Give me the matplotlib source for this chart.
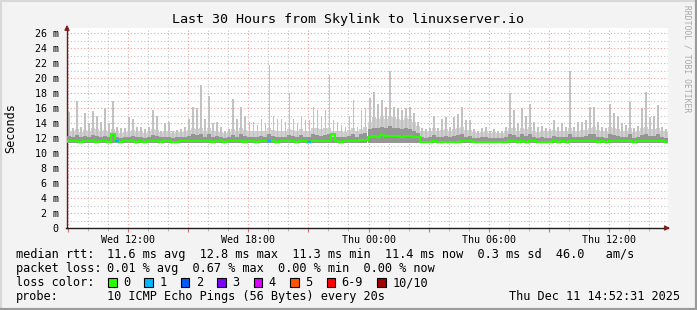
import matplotlib
matplotlib.use('Agg')
import matplotlib.pyplot as plt
import matplotlib.dates as mdates
from matplotlib.ticker import MultipleLocator, FuncFormatter
from matplotlib.patches import Rectangle
from matplotlib.lines import Line2D
import numpy as np
import pandas as pd

# 12 minute bins, Wed 08:57 -> Thu 14:57 (30 hours)
times = pd.date_range('2025-12-10 08:57', periods=150, freq='12min')

# smoke top (ms) - the light grey spikes
smoke_top = [15.5, 13.4, 17.0, 13.5, 15.3, 14.0, 15.6, 15.0, 14.2, 16.0, 14.0, 17.0, 13.5, 13.3, 13.3, 14.8, 14.5, 13.5, 13.5, 13.2, 13.5, 15.8, 15.0, 13.0, 14.0,
             14.2, 13.0, 13.1, 13.2, 13.5, 14.6, 16.2, 16.0, 19.1, 14.5, 17.6, 14.0, 14.2, 13.5, 13.0, 13.2, 17.2, 14.5, 16.2, 15.0, 14.2, 14.2, 13.8, 14.5, 14.0,
             21.7, 15.0, 14.6, 14.6, 14.2, 18.0, 14.6, 14.0, 15.0, 14.4, 14.4, 16.2, 15.8, 15.0, 15.7, 20.4, 14.4, 14.2, 13.8, 13.5, 15.0, 17.1, 13.5, 15.7, 16.0,
             17.3, 18.2, 16.5, 17.1, 16.2, 21.0, 16.2, 16.0, 15.7, 16.0, 16.2, 15.3, 14.2, 13.3, 13.2, 13.3, 15.0, 13.3, 14.5, 14.8, 13.5, 14.8, 15.2, 16.2, 14.4,
             14.4, 13.2, 13.0, 13.3, 13.5, 13.0, 13.2, 13.0, 13.0, 13.5, 18.0, 15.7, 14.0, 16.0, 15.0, 16.6, 14.2, 13.5, 13.6, 13.3, 13.2, 14.4, 13.5, 14.0, 13.5,
             21.0, 13.5, 14.2, 14.2, 14.4, 16.2, 16.2, 14.2, 13.5, 13.3, 16.6, 15.3, 15.0, 14.0, 13.8, 16.8, 13.3, 13.6, 16.0, 18.2, 14.8, 15.0, 16.4, 13.5, 13.2]

# continuous light smoke band
smoke_base = [13.0, 12.9, 13.2, 12.8, 13.1, 13.0, 13.3, 13.2, 12.9, 13.1, 12.8, 13.2, 12.9, 12.7, 12.8, 13.0, 13.1, 12.8, 12.9, 12.7, 12.9, 13.2, 13.1, 12.8, 12.9,
              13.0, 12.7, 12.8, 12.8, 12.9, 13.1, 13.3, 13.2, 13.4, 13.0, 13.3, 12.9, 13.0, 12.8, 12.7, 12.8, 13.2, 13.0, 13.3, 13.1, 12.9, 13.0, 12.9, 13.0, 12.9,
              13.3, 13.1, 13.0, 13.0, 12.9, 13.2, 13.1, 12.9, 13.2, 13.0, 13.0, 13.4, 13.3, 13.2, 13.3, 13.4, 13.0, 12.9, 12.9, 12.8, 13.1, 13.3, 12.9, 13.2, 13.5,
              14.2, 14.8, 14.5, 14.9, 14.6, 15.0, 14.8, 14.6, 14.4, 14.7, 14.5, 14.2, 13.6, 12.9, 12.8, 12.9, 13.3, 12.9, 13.1, 13.2, 12.9, 13.2, 13.3, 13.5, 13.1,
              13.1, 12.8, 12.7, 12.8, 12.9, 12.7, 12.8, 12.7, 12.7, 12.9, 13.4, 13.3, 12.9, 13.4, 13.2, 13.5, 13.0, 12.8, 12.9, 12.8, 12.8, 13.1, 12.9, 13.0, 12.9,
              13.3, 12.9, 13.0, 13.1, 13.1, 13.4, 13.5, 13.1, 12.9, 12.8, 13.5, 13.3, 13.2, 13.0, 12.9, 13.4, 12.8, 12.9, 13.3, 13.5, 13.2, 13.2, 13.4, 12.9, 12.8]

# darker smoke close to the median
smoke_mid = [12.3, 12.1, 12.4, 12.1, 12.3, 12.2, 12.4, 12.3, 12.1, 12.3, 12.1, 12.4, 12.2, 12.0, 12.1, 12.2, 12.3, 12.1, 12.2, 12.0, 12.2, 12.4, 12.3, 12.1, 12.2,
             12.2, 12.0, 12.1, 12.1, 12.2, 12.3, 12.5, 12.4, 12.6, 12.2, 12.5, 12.2, 12.3, 12.1, 12.0, 12.1, 12.4, 12.2, 12.5, 12.3, 12.2, 12.2, 12.2, 12.3, 12.2,
             12.6, 12.3, 12.2, 12.2, 12.2, 12.4, 12.3, 12.2, 12.4, 12.2, 12.2, 12.5, 12.4, 12.3, 12.4, 12.6, 12.2, 12.2, 12.1, 12.1, 12.3, 12.5, 12.2, 12.5, 12.7,
             13.2, 13.4, 13.3, 13.5, 13.3, 13.6, 13.4, 13.3, 13.2, 13.3, 13.2, 13.0, 12.7, 12.1, 12.0, 12.1, 12.4, 12.1, 12.2, 12.3, 12.1, 12.3, 12.4, 12.6, 12.2,
             12.3, 12.0, 12.0, 12.1, 12.1, 12.0, 12.0, 12.0, 12.0, 12.1, 12.6, 12.4, 12.1, 12.5, 12.3, 12.6, 12.2, 12.0, 12.1, 12.0, 12.0, 12.3, 12.1, 12.2, 12.1,
             12.5, 12.1, 12.2, 12.2, 12.3, 12.5, 12.6, 12.2, 12.1, 12.0, 12.6, 12.4, 12.3, 12.2, 12.1, 12.5, 12.0, 12.1, 12.4, 12.6, 12.3, 12.3, 12.5, 12.1, 12.0]

median = [11.6, 11.6, 11.6, 11.5, 11.6, 11.6, 11.6, 11.5, 11.6, 11.6, 11.5, 12.5, 11.6, 11.5, 11.6, 11.6, 11.6, 11.5, 11.6, 11.5, 11.6, 11.6, 11.6, 11.5, 11.6,
          11.6, 11.5, 11.5, 11.6, 11.6, 11.6, 11.6, 11.6, 11.6, 11.6, 11.6, 11.5, 11.6, 11.6, 11.5, 11.6, 11.6, 11.6, 11.6, 11.5, 11.6, 11.6, 11.5, 11.6, 11.6,
          11.6, 11.6, 11.5, 11.6, 11.6, 11.6, 11.6, 11.5, 11.6, 11.6, 11.5, 11.6, 11.6, 11.6, 11.6, 11.6, 12.5, 11.6, 11.5, 11.6, 11.6, 11.6, 11.6, 11.7, 11.8,
          12.2, 12.3, 12.2, 12.4, 12.3, 12.3, 12.3, 12.3, 12.2, 12.3, 12.3, 12.2, 12.2, 11.5, 11.5, 11.5, 11.6, 11.5, 11.5, 11.5, 11.5, 11.5, 11.5, 11.6, 11.6,
          11.6, 11.5, 11.5, 11.5, 11.5, 11.5, 11.5, 11.5, 11.5, 11.5, 11.6, 11.6, 11.5, 11.6, 11.5, 11.6, 11.6, 11.5, 11.5, 11.5, 11.5, 11.6, 11.5, 11.6, 11.5,
          11.6, 11.6, 11.6, 11.6, 11.6, 11.6, 11.6, 11.5, 11.6, 11.5, 11.6, 11.6, 11.6, 11.6, 11.6, 11.6, 11.5, 11.6, 11.6, 11.6, 11.6, 11.6, 11.6, 11.6, 11.5]

# lost pings per bin (out of 10)
loss = [0, 0, 0, 0, 0, 0, 0, 0, 0, 0, 0, 0, 1, 0, 0, 0, 0, 0, 0, 0, 0, 0, 0, 0, 0,
        0, 0, 0, 0, 0, 0, 0, 0, 0, 0, 0, 0, 0, 0, 0, 0, 0, 0, 0, 0, 0, 0, 0, 0, 0,
        1, 0, 0, 0, 0, 0, 0, 0, 0, 0, 1, 0, 0, 0, 0, 0, 0, 0, 0, 0, 0, 0, 0, 0, 0,
        0, 0, 0, 0, 0, 0, 0, 0, 0, 0, 0, 0, 0, 0, 0, 0, 0, 0, 0, 0, 0, 0, 0, 0, 0,
        0, 0, 0, 0, 0, 0, 0, 0, 0, 0, 0, 0, 0, 0, 0, 0, 0, 0, 0, 0, 0, 0, 0, 0, 0,
        0, 0, 0, 0, 0, 0, 0, 0, 0, 0, 0, 0, 0, 0, 0, 0, 0, 0, 0, 0, 0, 0, 0, 0, 0]
smoke_low = 11.3

loss_labels = ['0', '1', '2', '3', '4', '5', '6-9', '10/10']
loss_colors = ['#26ff00', '#00b8ff', '#0059ff', '#7e00ff', '#dd00ff', '#ff5500', '#ff0000', '#a00000']

title = 'Last 30 Hours from Skylink to linuxserver.io'
rtt_text = '11.6 ms avg  12.8 ms max  11.3 ms min  11.4 ms now  0.3 ms sd  46.0   am/s'
loss_text = '0.01 % avg  0.67 % max  0.00 % min  0.00 % now'
probe_text = '10 ICMP Echo Pings (56 Bytes) every 20s'
stamp = 'Thu Dec 11 14:52:31 2025'

W, H = 697, 310
plt.rcParams['font.family'] = ['DejaVu Sans Mono']
fig = plt.figure(figsize=(W / 100, H / 100), dpi=100, facecolor='#f3f3f3')

def fx(x):
    return x / W
def fy(y):
    return 1 - y / H

ax = fig.add_axes([fx(67), 82 / H, 601 / W, 200 / H])
ax.set_facecolor('white')

t = mdates.date2num(times)
w = t[1] - t[0]
edges = np.append(t, t[-1] + w)

ax.bar(t, np.array(smoke_base) - smoke_low, width=w, bottom=smoke_low, align='edge', color='#d0d0d0', linewidth=0, zorder=2)
ax.bar(t + w * 0.3, np.array(smoke_top) - smoke_low, width=w * 0.45, bottom=smoke_low, align='edge', color='#c2c2c2', linewidth=0, zorder=2)
ax.bar(t, np.array(smoke_mid) - smoke_low, width=w, bottom=smoke_low, align='edge', color='#959595', linewidth=0, zorder=3)
ax.stairs(median, edges, baseline=None, color=loss_colors[0], linewidth=1.5, zorder=4)
for i in range(len(loss)):
    if loss[i] > 0:
        ci = min(loss[i], 6) if loss[i] < 10 else 7
        ax.hlines(median[i], t[i], t[i] + w, color=loss_colors[ci], linewidth=1.7, zorder=5)

ax.set_xlim(t[0], edges[-1])
ax.set_ylim(0, 200 / 7.5)

ax.xaxis.set_major_locator(mdates.HourLocator(byhour=range(0, 24, 3)))
ax.xaxis.set_minor_locator(mdates.HourLocator())
ax.xaxis.set_major_formatter(FuncFormatter(
    lambda v, p: mdates.num2date(v).strftime('%a %H:%M') if mdates.num2date(v).hour % 6 == 0 else ''))
ax.yaxis.set_major_locator(MultipleLocator(2))
ax.yaxis.set_minor_locator(MultipleLocator(1))
ax.yaxis.set_major_formatter(FuncFormatter(lambda v, p: '%d m' % v if v > 0 else '0'))

ax.grid(which='major', color='#f2a0a0', linestyle=(0, (1, 2)), linewidth=0.8, zorder=1)
ax.grid(which='minor', color='#c4c4c4', linestyle=(0, (1, 2)), linewidth=0.8, zorder=1)
ax.set_axisbelow(True)

ax.tick_params(axis='x', which='major', length=3, color='#e07070', labelsize=7.2, pad=2)
ax.tick_params(axis='x', which='minor', length=2, color='#b0b0b0')
ax.tick_params(axis='y', which='both', length=0, labelsize=7.2, pad=6)

for s in ['top', 'right']:
    ax.spines[s].set_visible(False)
ax.spines['left'].set_color('#5a1f1f')
ax.spines['bottom'].set_color('#1f1f1f')
ax.spines['left'].set_linewidth(1)
ax.spines['bottom'].set_linewidth(1)
ax.spines['bottom'].set_bounds(ax.get_xlim()[0] - 4 * w / 4 * 0.3, ax.get_xlim()[1])

# axis arrows
ax.annotate('', xy=(0, 1.03), xytext=(0, 0.98), xycoords='axes fraction',
            arrowprops=dict(arrowstyle='-|>', color='#7f1f1f', lw=1, mutation_scale=7), annotation_clip=False)
ax.annotate('', xy=(1.008, 0), xytext=(0.99, 0), xycoords='axes fraction',
            arrowprops=dict(arrowstyle='-|>', color='#7f1f1f', lw=1, mutation_scale=7), annotation_clip=False)

fig.text(fx(347.5), fy(19), title, ha='center', va='center', fontsize=9.6)
fig.text(fx(11), fy(128), 'Seconds', rotation=90, ha='center', va='center', fontsize=8.5)
fig.text(fx(687), fy(5), 'RRDTOOL / TOBI OETIKER', rotation=270, ha='center', va='top', fontsize=5.8, color='#a8a8a8')

fs = 8.55
cw = 7.15  # monospace advance in px at this size
fig.text(fx(16), fy(254.5), 'median rtt:', ha='left', va='center', fontsize=fs)
fig.text(fx(107), fy(254.5), rtt_text, ha='left', va='center', fontsize=fs)
fig.text(fx(16), fy(268.5), 'packet loss:', ha='left', va='center', fontsize=fs)
fig.text(fx(107), fy(268.5), loss_text, ha='left', va='center', fontsize=fs)

fig.text(fx(16), fy(282.5), 'loss color:', ha='left', va='center', fontsize=fs)
bx = 108
for i in range(len(loss_labels)):
    fig.patches.append(Rectangle((fx(bx), fy(287)), 8.5 / W, 9 / H, transform=fig.transFigure,
                                 facecolor=loss_colors[i], edgecolor='black', linewidth=0.8))
    fig.text(fx(bx + 15), fy(282.5), loss_labels[i], ha='left', va='center', fontsize=fs)
    bx += 15 + cw * (len(loss_labels[i]) + 2)

fig.text(fx(16), fy(296.5), 'probe:', ha='left', va='center', fontsize=fs)
fig.text(fx(107), fy(296.5), probe_text, ha='left', va='center', fontsize=fs)
fig.text(fx(680), fy(296.5), stamp, ha='right', va='center', fontsize=fs)

# image border shading
fig.lines.append(Line2D([0, 0, 1], [0, 1, 1], transform=fig.transFigure, color='#d8d8d8', linewidth=3))
fig.lines.append(Line2D([0, 1, 1], [0, 0, 1], transform=fig.transFigure, color='#9a9a9a', linewidth=3))

fig.savefig('out.png', dpi=100, facecolor=fig.get_facecolor())
